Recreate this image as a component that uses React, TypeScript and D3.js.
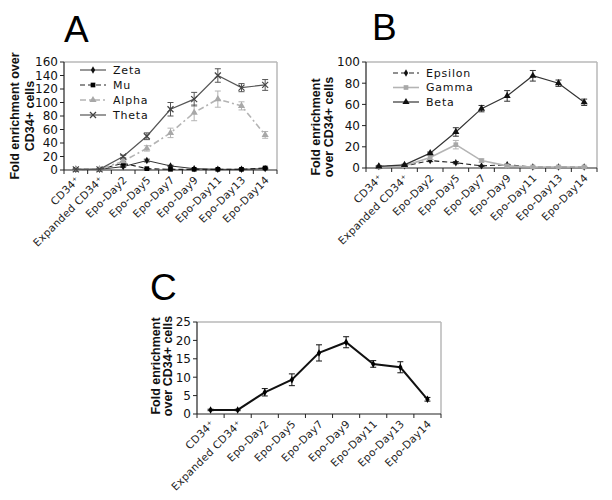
import React from "react";
import * as d3 from "d3";

const categories = ["CD34⁺", "Expanded CD34⁺", "Epo-Day2", "Epo-Day5", "Epo-Day7", "Epo-Day9", "Epo-Day11", "Epo-Day13", "Epo-Day14"];

// Panel A
const zeta = [1, 1, 5, 14, 6, 2, 1, 1, 2];
const zetaErr = [0.5, 0.5, 1, 2, 1, 0.5, 0.5, 0.5, 0.5];
const mu = [1, 1, 10, 2, 1, 1, 1, 1, 3];
const muErr = [0.5, 0.5, 2, 0.5, 0.5, 0.5, 0.5, 0.5, 1];
const alpha = [1, 1, 13, 32, 55, 85, 105, 95, 52];
const alphaErr = [0.5, 0.5, 2, 4, 7, 12, 12, 6, 5];
const theta = [1, 1, 20, 50, 90, 105, 140, 122, 126];
const thetaErr = [0.5, 0.5, 2, 5, 10, 10, 10, 6, 8];
const ticksA = [0, 20, 40, 60, 80, 100, 120, 140, 160];

// Panel B
const epsilon = [1.5, 2, 7, 5, 2, 3, 1, 1, 1];
const epsilonErr = [0.5, 0.5, 1, 1, 0.5, 0.5, 0.5, 0.5, 0.5];
const gamma = [1, 2, 10, 22, 7, 2, 1, 1, 1];
const gammaErr = [0.5, 0.5, 2, 4, 1.5, 0.5, 0.5, 0.5, 0.5];
const beta = [1.5, 3, 14, 34, 56, 68, 87, 80, 62];
const betaErr = [0.5, 0.5, 1, 4, 3, 5, 5, 3, 3];
const ticksB = [0, 20, 40, 60, 80, 100];

// Panel C
const total = [1.1, 1.1, 5.9, 9.3, 16.6, 19.5, 13.6, 12.7, 4.0];
const totalErr = [0.2, 0.2, 1.0, 1.6, 2.2, 1.5, 0.9, 1.5, 0.5];
const ticksC = [0, 5, 10, 15, 20, 25];

type Series = {
  name: string;
  values: number[];
  errors: number[];
  color: string;
  width: number;
  dash?: string;
  marker: "diamond" | "square" | "triangle" | "x";
  markerColor: string;
};

type PanelProps = {
  x0: number; x1: number; y0: number; y1: number;
  ticks: number[];
  series: Series[];
  legend?: { x: number; y: number; step: number };
  letter: string; letterX: number; letterY: number;
  titleLines: string[]; titleX: number; titleY: number; titleGap: number;
};

function Marker({ kind, x, y, color }: { kind: string; x: number; y: number; color: string }) {
  if (kind === "x") {
    const s = 3;
    return (
      <g stroke={color} strokeWidth={1.2}>
        <line x1={x - s} y1={y - s} x2={x + s} y2={y + s} />
        <line x1={x - s} y1={y + s} x2={x + s} y2={y - s} />
      </g>
    );
  }
  const type = kind === "diamond" ? d3.symbolDiamond : kind === "square" ? d3.symbolSquare : d3.symbolTriangle;
  const size = kind === "square" ? 22 : kind === "triangle" ? 22 : 16;
  const p = d3.symbol().type(type).size(size)();
  return <path d={p || ""} transform={`translate(${x},${y})`} fill={color} />;
}

function Panel(props: PanelProps) {
  const { x0, x1, y0, y1, ticks, series, legend } = props;
  const x = d3.scaleBand<string>().domain(categories).range([x0, x1]);
  const yMax = ticks[ticks.length - 1];
  const y = d3.scaleLinear().domain([0, yMax]).range([y1, y0]);
  const cx = (c: string) => (x(c) as number) + x.bandwidth() / 2;
  const line = d3.line<number>().x((_, i) => cx(categories[i])).y((v) => y(v));
  const font = "'DejaVu Sans', Verdana, sans-serif";
  return (
    <g>
      <text x={props.letterX} y={props.letterY} fontFamily="'Liberation Sans', Arial, sans-serif" fontSize={37} fill="#000">{props.letter}</text>
      {/* frame */}
      <line x1={x0} y1={y0} x2={x1} y2={y0} stroke="#b8b8b8" strokeWidth={1.5} />
      <line x1={x1} y1={y0} x2={x1} y2={y1} stroke="#b8b8b8" strokeWidth={1.5} />
      {/* y axis */}
      <line x1={x0} y1={y0} x2={x0} y2={y1} stroke="#222" strokeWidth={1.2} />
      {ticks.map((t) => (
        <g key={t}>
          <line x1={x0 - 4} x2={x0} y1={y(t)} y2={y(t)} stroke="#222" />
          <text x={x0 - 6} y={y(t)} dy="0.36em" textAnchor="end" fontFamily={font} fontSize={12} fill="#111">{t}</text>
        </g>
      ))}
      {/* x axis */}
      <line x1={x0} y1={y1} x2={x1} y2={y1} stroke="#222" strokeWidth={1.2} />
      {categories.map((c, i) => (
        <line key={"t" + i} x1={x(c) as number} x2={x(c) as number} y1={y1} y2={y1 + 4} stroke="#222" />
      ))}
      <line x1={x1} x2={x1} y1={y1} y2={y1 + 4} stroke="#222" />
      {categories.map((c, i) => (
        <text key={"l" + i} transform={`translate(${cx(c) + 2},${y1 + 8}) rotate(-45)`} textAnchor="end" dy="0.35em" fontFamily={font} fontSize={10.5} letterSpacing={0.3} fill="#222">{c}</text>
      ))}
      {/* y title */}
      {props.titleLines.map((t, i) => (
        <text key={"yt" + i} transform={`translate(${props.titleX + i * props.titleGap},${props.titleY}) rotate(-90)`} textAnchor="middle" dy="0.35em" fontFamily="'Liberation Sans', Arial, sans-serif" fontWeight="bold" fontSize={12.5} fill="#111">{t}</text>
      ))}
      {/* series */}
      {series.map((s) => (
        <g key={s.name}>
          <path d={line(s.values) || ""} fill="none" stroke={s.color} strokeWidth={s.width} strokeDasharray={s.dash} />
          {s.values.map((v, i) => {
            const px = cx(categories[i]);
            const e = s.errors[i];
            return (
              <g key={i} stroke={s.color} strokeWidth={1}>
                <line x1={px} x2={px} y1={y(v - e)} y2={y(v + e)} />
                <line x1={px - 3} x2={px + 3} y1={y(v + e)} y2={y(v + e)} />
                <line x1={px - 3} x2={px + 3} y1={y(v - e)} y2={y(v - e)} />
              </g>
            );
          })}
          {s.values.map((v, i) => (
            <Marker key={"m" + i} kind={s.marker} x={cx(categories[i])} y={y(v)} color={s.markerColor} />
          ))}
        </g>
      ))}
      {/* legend */}
      {legend && series.map((s, i) => {
        const ly = legend.y + i * legend.step;
        return (
          <g key={"lg" + s.name}>
            <line x1={legend.x} x2={legend.x + 26} y1={ly} y2={ly} stroke={s.color} strokeWidth={s.width} strokeDasharray={s.dash} />
            <Marker kind={s.marker} x={legend.x + 13} y={ly} color={s.markerColor} />
            <text x={legend.x + 33} y={ly} dy="0.36em" fontFamily={font} fontSize={11} letterSpacing={0.8} fill="#111">{s.name}</text>
          </g>
        );
      })}
    </g>
  );
}

const seriesA: Series[] = [
  { name: "Zeta", values: zeta, errors: zetaErr, color: "#333", width: 1, marker: "diamond", markerColor: "#111" },
  { name: "Mu", values: mu, errors: muErr, color: "#222", width: 1.2, dash: "5,3", marker: "square", markerColor: "#000" },
  { name: "Alpha", values: alpha, errors: alphaErr, color: "#b4b4b4", width: 1.6, dash: "6,3,2,3", marker: "triangle", markerColor: "#a8a8a8" },
  { name: "Theta", values: theta, errors: thetaErr, color: "#555", width: 1.2, marker: "x", markerColor: "#444" },
];

const seriesB: Series[] = [
  { name: "Epsilon", values: epsilon, errors: epsilonErr, color: "#222", width: 1.1, dash: "5,3", marker: "diamond", markerColor: "#111" },
  { name: "Gamma", values: gamma, errors: gammaErr, color: "#b4b4b4", width: 1.6, marker: "square", markerColor: "#a8a8a8" },
  { name: "Beta", values: beta, errors: betaErr, color: "#333", width: 1.2, marker: "triangle", markerColor: "#111" },
];

const seriesC: Series[] = [
  { name: "Total", values: total, errors: totalErr, color: "#111", width: 2, marker: "diamond", markerColor: "#000" },
];

export default function App() {
  return (
    <svg width={612} height={500} style={{ position: "absolute", left: 0, top: 0, background: "#fff" }}>
      <rect width={612} height={500} fill="#fff" />
      <Panel x0={64} x1={277} y0={62} y1={170} ticks={ticksA} series={seriesA}
        legend={{ x: 80, y: 70, step: 15 }}
        letter="A" letterX={64} letterY={42}
        titleLines={["Fold enrichment over", "CD34+ cells"]} titleX={15} titleY={116} titleGap={15} />
      <Panel x0={366} x1={597} y0={62} y1={168} ticks={ticksB} series={seriesB}
        legend={{ x: 393, y: 73, step: 14.5 }}
        letter="B" letterX={372} letterY={40}
        titleLines={["Fold enrichment", "over CD34+ cells"]} titleX={316} titleY={127} titleGap={13} />
      <Panel x0={197} x1={441} y0={322} y1={414} ticks={ticksC} series={seriesC}
        letter="C" letterX={150} letterY={300}
        titleLines={["Fold enrichment", "over CD34+ cells"]} titleX={156} titleY={366} titleGap={12} />
    </svg>
  );
}
